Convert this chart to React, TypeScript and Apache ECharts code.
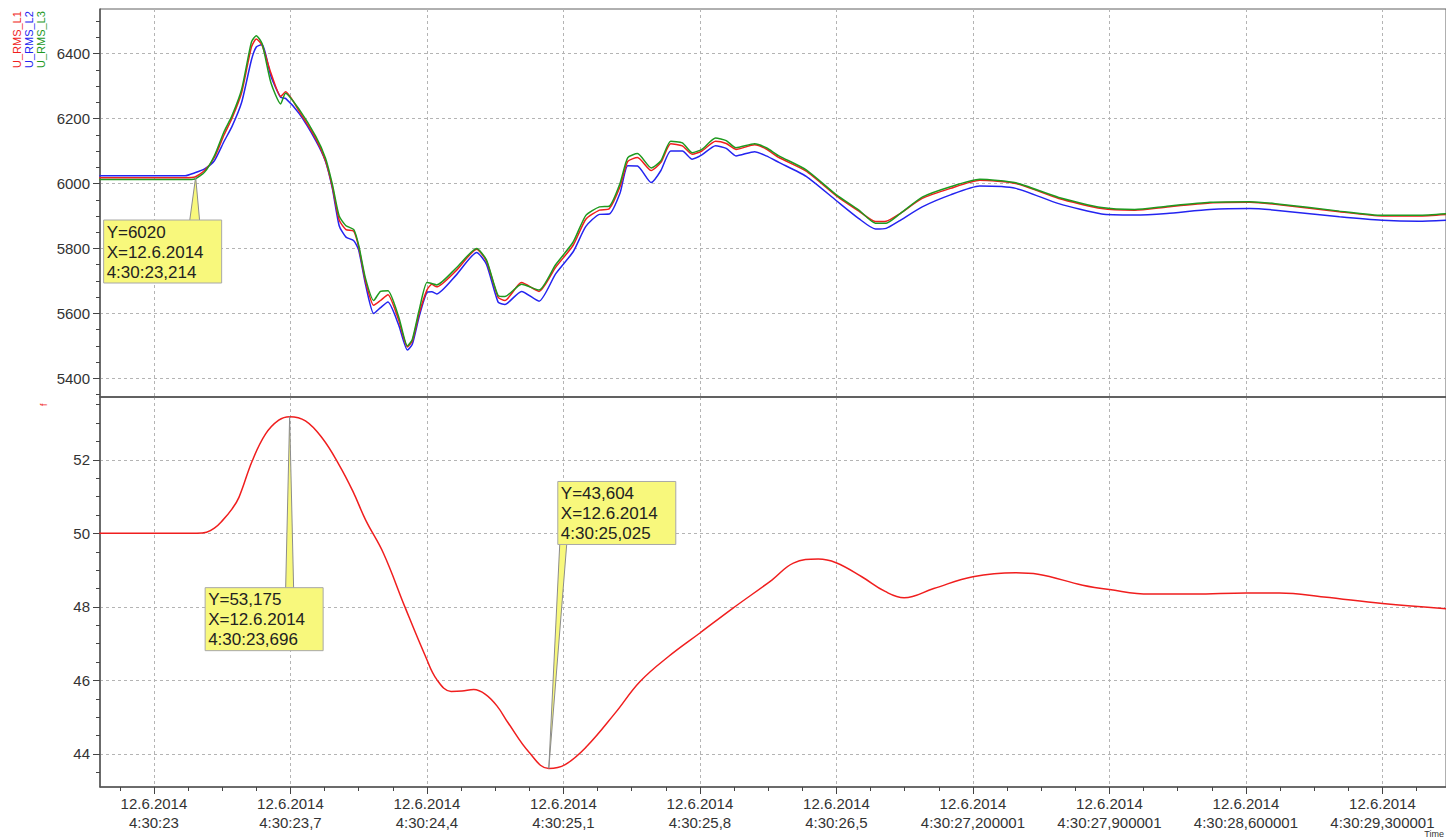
import React, { useEffect, useRef } from "react";
import * as echarts from "echarts";

const FONT = "'Liberation Sans', Arial, sans-serif";

// ---- axis ticks & labels ----
const xTicks = [23.0, 23.7, 24.4, 25.1, 25.8, 26.5, 27.2, 27.9, 28.6, 29.3];
const xMinorTicks = [22.825, 23.175, 23.35, 23.525, 23.875, 24.05, 24.225, 24.575, 24.75, 24.925, 25.275, 25.45, 25.625, 25.975, 26.15, 26.325, 26.675, 26.85, 27.025, 27.375, 27.55, 27.725, 28.075, 28.25, 28.425, 28.775, 28.95, 29.125, 29.475];
const xTickDates = ["12.6.2014", "12.6.2014", "12.6.2014", "12.6.2014", "12.6.2014", "12.6.2014", "12.6.2014", "12.6.2014", "12.6.2014", "12.6.2014"];
const xTickTimes = ["4:30:23", "4:30:23,7", "4:30:24,4", "4:30:25,1", "4:30:25,8", "4:30:26,5", "4:30:27,200001", "4:30:27,900001", "4:30:28,600001", "4:30:29,300001"];
const yTopTicks = [5400, 5600, 5800, 6000, 6200, 6400];
const yTopMinor = [5350, 5450, 5500, 5550, 5650, 5700, 5750, 5850, 5900, 5950, 6050, 6100, 6150, 6250, 6300, 6350, 6450, 6500];
const yBotTicks = [44, 46, 48, 50, 52];
const yBotMinor = [43.5, 44.5, 45, 45.5, 46.5, 47, 47.5, 48.5, 49, 49.5, 50.5, 51, 51.5, 52.5, 53, 53.5];

// ---- top panel: U_RMS (seconds after 4:30:00) ----
const tTop = [22.72, 23.0, 23.16, 23.21, 23.26, 23.31, 23.36, 23.40, 23.45, 23.50, 23.525, 23.555, 23.60, 23.65, 23.675, 23.745, 23.83, 23.88, 23.915, 23.95, 23.985, 24.025, 24.05, 24.085, 24.127, 24.162, 24.20, 24.255, 24.30, 24.325, 24.36, 24.40, 24.425, 24.45, 24.55, 24.655, 24.705, 24.765, 24.80, 24.885, 24.975, 25.06, 25.15, 25.215, 25.285, 25.335, 25.39, 25.43, 25.48, 25.55, 25.60, 25.65, 25.71, 25.76, 25.81, 25.88, 25.935, 25.985, 26.08, 26.14, 26.205, 26.345, 26.50, 26.615, 26.70, 26.755, 26.82, 26.94, 27.085, 27.235, 27.42, 27.64, 27.86, 28.03, 28.195, 28.415, 28.62, 28.75, 29.08, 29.30, 29.485, 29.63];
const uL1 = [6018, 6018, 6018, 6020, 6040, 6080, 6150, 6200, 6280, 6420, 6445, 6425, 6340, 6268, 6282, 6222, 6138, 6070, 5990, 5888, 5858, 5853, 5805, 5700, 5625, 5640, 5658, 5580, 5497, 5515, 5600, 5672, 5690, 5682, 5732, 5798, 5762, 5650, 5640, 5695, 5668, 5742, 5810, 5890, 5918, 5922, 5990, 6068, 6080, 6040, 6065, 6122, 6116, 6090, 6100, 6130, 6123, 6105, 6119, 6106, 6080, 6038, 5962, 5915, 5883, 5884, 5905, 5954, 5985, 6010, 6000, 5954, 5923, 5918, 5928, 5940, 5942, 5936, 5913, 5900, 5900, 5905];
const uL2 = [6024, 6024, 6024, 6033, 6045, 6070, 6130, 6175, 6250, 6380, 6420, 6428, 6330, 6265, 6262, 6215, 6132, 6068, 5985, 5870, 5835, 5824, 5795, 5690, 5600, 5618, 5635, 5565, 5488, 5505, 5590, 5665, 5667, 5660, 5718, 5788, 5752, 5635, 5628, 5668, 5638, 5722, 5790, 5868, 5905, 5906, 5970, 6055, 6054, 6003, 6040, 6100, 6100, 6075, 6088, 6116, 6108, 6085, 6098, 6085, 6065, 6022, 5947, 5892, 5860, 5862, 5884, 5928, 5965, 5992, 5985, 5938, 5906, 5903, 5908, 5920, 5923, 5918, 5898, 5887, 5884, 5887];
const uL3 = [6012, 6012, 6012, 6014, 6035, 6085, 6160, 6208, 6290, 6435, 6455, 6430, 6310, 6245, 6278, 6228, 6145, 6078, 5998, 5900, 5870, 5858, 5810, 5708, 5640, 5668, 5670, 5590, 5500, 5520, 5610, 5695, 5692, 5688, 5740, 5800, 5765, 5655, 5652, 5690, 5672, 5750, 5820, 5902, 5928, 5930, 6000, 6080, 6092, 6048, 6070, 6130, 6125, 6095, 6105, 6140, 6132, 6110, 6122, 6110, 6085, 6042, 5965, 5918, 5878, 5878, 5904, 5958, 5990, 6013, 6002, 5957, 5926, 5920, 5930, 5942, 5944, 5938, 5915, 5902, 5902, 5907];

// ---- bottom panel: f ----
const tF = [22.72, 23.0, 23.22, 23.27, 23.31, 23.35, 23.40, 23.436, 23.504, 23.572, 23.64, 23.696, 23.777, 23.862, 23.948, 24.02, 24.086, 24.177, 24.287, 24.393, 24.451, 24.524, 24.58, 24.64, 24.70, 24.76, 24.817, 24.926, 25.025, 25.109, 25.219, 25.365, 25.493, 25.639, 25.8, 25.968, 26.169, 26.279, 26.407, 26.498, 26.63, 26.75, 26.847, 26.999, 27.2, 27.419, 27.534, 27.763, 27.9, 28.106, 28.335, 28.6, 28.772, 29.0, 29.3, 29.63];
const fVals = [50, 50, 50, 50.03, 50.14, 50.34, 50.66, 50.98, 51.97, 52.70, 53.08, 53.175, 53.06, 52.6, 51.88, 51.15, 50.36, 49.46, 48.0, 46.65, 46.02, 45.70, 45.71, 45.75, 45.62, 45.3, 44.84, 44.03, 43.604, 43.71, 44.2, 45.11, 45.97, 46.65, 47.29, 47.96, 48.73, 49.19, 49.30, 49.20, 48.82, 48.42, 48.25, 48.5, 48.82, 48.93, 48.89, 48.59, 48.47, 48.35, 48.35, 48.38, 48.38, 48.27, 48.09, 47.95];

// ---- callouts ----
const annT = [23.214, 23.696, 25.025];
const annV = [6020, 53.175, 43.604];
const annPanel = [0, 1, 1];
const annLines = [
  ["Y=6020", "X=12.6.2014", "4:30:23,214"],
  ["Y=53,175", "X=12.6.2014", "4:30:23,696"],
  ["Y=43,604", "X=12.6.2014", "4:30:25,025"],
];

const seriesNames = ["U_RMS_L1", "U_RMS_L2", "U_RMS_L3"];
const RED = "#f01e1e";
const BLUE = "#2424f0";
const GREEN = "#1f9a1f";

const X_MIN = 22.7235;
const X_MAX = 29.626;

const zip = (a: number[], b: number[]) => a.map((v, i) => [v, b[i]]);

function xLabel(v: number) {
  for (let i = 0; i < xTicks.length; i++) {
    if (Math.abs(v - xTicks[i]) < 1e-6) return xTickDates[i] + "\n" + xTickTimes[i];
  }
  return "";
}

const gridLine = { show: true, lineStyle: { color: "#b4b4b4", type: [3, 3] as any, width: 1 } };
const axisCol = "#555";

export default function App() {
  const ref = useRef<HTMLDivElement>(null);
  useEffect(() => {
    if (!ref.current) return;
    const chart = echarts.init(ref.current, null, { renderer: "svg" });
    const mainX = (gi: number, labels: boolean) => ({
      type: "value",
      gridIndex: gi,
      min: X_MIN,
      max: X_MAX,
      position: "bottom",
      axisLine: { show: true, onZero: false, lineStyle: { color: axisCol, width: 1.5 } },
      axisTick: { show: labels, length: 7, customValues: xTicks, lineStyle: { color: "#444" } },
      axisLabel: {
        show: labels,
        customValues: xTicks,
        formatter: xLabel,
        fontSize: 15,
        lineHeight: 19,
        margin: 7,
        color: "#333",
        fontFamily: FONT,
      },
      splitLine: gridLine,
    });
    const minorX = (gi: number, show: boolean) => ({
      type: "value",
      gridIndex: gi,
      min: X_MIN,
      max: X_MAX,
      position: "bottom",
      axisLine: { show: false, onZero: false },
      axisTick: { show, length: 4, customValues: xMinorTicks, lineStyle: { color: "#444" } },
      axisLabel: { show: false },
      splitLine: { show: false },
    });
    const mainY = (gi: number, min: number, max: number, ticks: number[]) => ({
      type: "value",
      gridIndex: gi,
      min,
      max,
      position: "left",
      axisLine: { show: true, onZero: false, lineStyle: { color: axisCol, width: 1.5 } },
      axisTick: { show: true, length: 7, customValues: ticks, lineStyle: { color: "#444" } },
      axisLabel: {
        show: true,
        customValues: ticks,
        formatter: (v: number) => String(v),
        fontSize: 15,
        margin: 10,
        color: "#333",
        fontFamily: FONT,
      },
      splitLine: gridLine,
    });
    const minorY = (gi: number, min: number, max: number, ticks: number[]) => ({
      type: "value",
      gridIndex: gi,
      min,
      max,
      position: "left",
      axisLine: { show: false, onZero: false },
      axisTick: { show: true, length: 4, customValues: ticks, lineStyle: { color: "#444" } },
      axisLabel: { show: false },
      splitLine: { show: false },
    });
    const line = (name: string, t: number[], v: number[], color: string, ai: number, smooth: number) => ({
      type: "line",
      name,
      xAxisIndex: ai,
      yAxisIndex: ai,
      data: zip(t, v),
      showSymbol: false,
      smooth,
      lineStyle: { color, width: 1.5 },
      itemStyle: { color },
      z: 3,
    });
    chart.setOption({
      animation: false,
      backgroundColor: "#ffffff",
      textStyle: { fontFamily: FONT },
      grid: [
        { left: 100, top: 9, width: 1348, height: 388, show: true, borderColor: "#606060", borderWidth: 1, backgroundColor: "transparent" },
        { left: 100, top: 397, width: 1348, height: 390, show: true, borderColor: "#606060", borderWidth: 1, backgroundColor: "transparent" },
      ],
      xAxis: [mainX(0, false), minorX(0, false), mainX(1, true), minorX(1, true)],
      yAxis: [
        mainY(0, 5343, 6537, yTopTicks),
        minorY(0, 5343, 6537, yTopMinor),
        mainY(1, 43.1, 53.71, yBotTicks),
        minorY(1, 43.1, 53.71, yBotMinor),
      ],
      series: [
        line(seriesNames[1], tTop, uL2, BLUE, 0, 0.2),
        line(seriesNames[0], tTop, uL1, RED, 0, 0.2),
        line(seriesNames[2], tTop, uL3, GREEN, 0, 0.2),
        line("f", tF, fVals, RED, 2, 0.4),
      ],
    });

    const elements: any[] = [];
    // rotated series labels
    const vLabels = [
      { text: seriesNames[0], x: 17, color: RED },
      { text: seriesNames[1], x: 29, color: BLUE },
      { text: seriesNames[2], x: 41, color: GREEN },
    ];
    vLabels.forEach((l) => {
      elements.push({
        type: "text",
        x: l.x,
        y: 68,
        rotation: Math.PI / 2,
        style: { text: l.text, fill: l.color, fontSize: 11, fontFamily: FONT, align: "left", verticalAlign: "middle" },
      });
    });
    elements.push({
      type: "text",
      x: 44,
      y: 406,
      rotation: Math.PI / 2,
      style: { text: "f", fill: RED, fontSize: 9, fontFamily: FONT, align: "left", verticalAlign: "middle" },
    });
    elements.push({
      type: "text",
      x: 1444,
      y: 834,
      style: { text: "Time", fill: "#333", fontSize: 9, fontFamily: FONT, align: "right", verticalAlign: "middle" },
    });

    const BW = 118, BH = 63;
    const offsets = [
      { bx: -92, by: 43, base: [-6, 4], baseOnTop: true },
      { bx: -84.5, by: 171, base: [-4, 4], baseOnTop: true },
      { bx: 9, by: -287, base: [11, 18], baseOnTop: false },
    ];
    annT.forEach((t, i) => {
      const ai = annPanel[i] === 0 ? 0 : 2;
      const p = chart.convertToPixel({ xAxisIndex: ai, yAxisIndex: ai } as any, [t, annV[i]]) as number[];
      const o = offsets[i];
      const bx = p[0] + o.bx;
      const by = p[1] + o.by;
      const baseY = o.baseOnTop ? by + 1 : by + BH - 1;
      elements.push({
        type: "polygon",
        z: 100,
        shape: { points: [[p[0], p[1]], [p[0] + o.base[0], baseY], [p[0] + o.base[1], baseY]] },
        style: { fill: "#f8f87c", stroke: "#8c8c8c", lineWidth: 1 },
      });
      elements.push({
        type: "rect",
        z: 101,
        shape: { x: bx, y: by, width: BW, height: BH },
        style: { fill: "#f8f87c", stroke: "#a8a8a8", lineWidth: 1 },
      });
      elements.push({
        type: "text",
        z: 102,
        x: bx + 3,
        y: by + 2,
        style: { text: annLines[i].join("\n"), fill: "#222", fontSize: 17, lineHeight: 20, fontFamily: FONT, align: "left", verticalAlign: "top" },
      });
    });
    chart.setOption({ graphic: { elements } });

    return () => chart.dispose();
  }, []);
  return <div ref={ref} style={{ position: "fixed", left: 0, top: 0, width: 1446, height: 839 }} />;
}
